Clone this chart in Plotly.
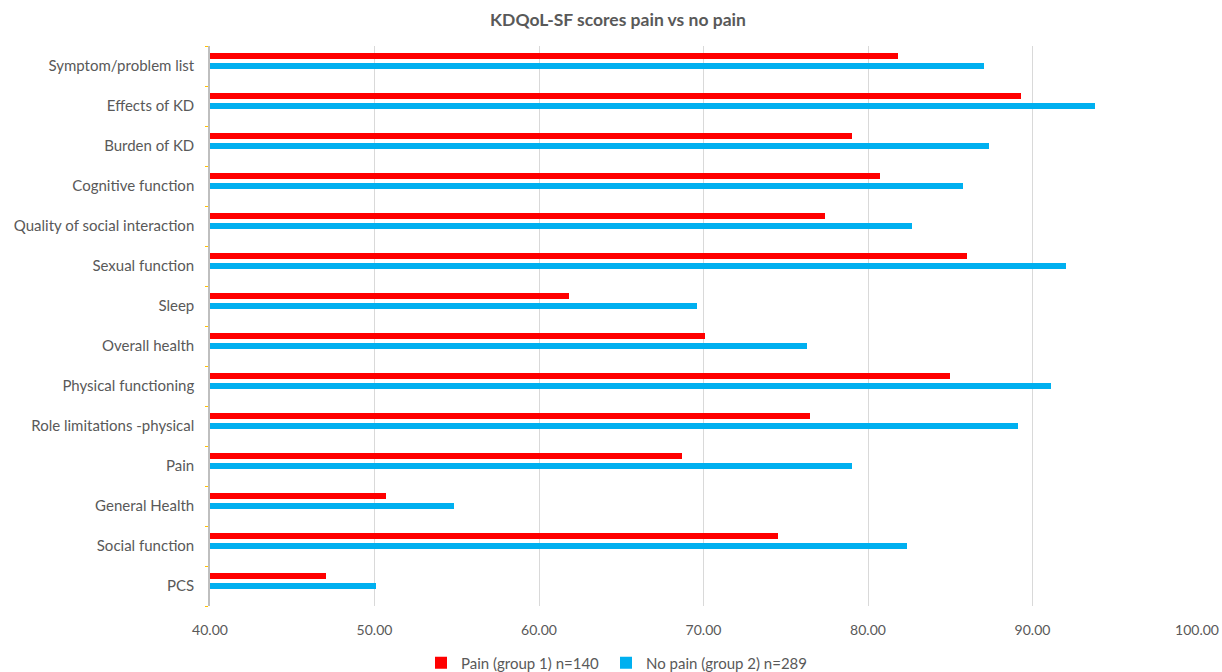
import plotly.graph_objects as go

categories = ["PCS", "Social function", "General Health", "Pain",
              "Role limitations -physical", "Physical functioning", "Overall health",
              "Sleep", "Sexual function", "Quality of social interaction",
              "Cognitive function", "Burden of KD", "Effects of KD", "Symptom/problem list"]
pain_scores = [47.05, 74.5, 50.7, 68.7, 76.5, 85.0, 70.1, 61.8, 86.0, 77.4, 80.7, 79.0, 89.3, 81.8]
nopain_scores = [50.1, 82.4, 54.85, 79.0, 89.1, 91.1, 76.3, 69.6, 92.05, 82.7, 85.8, 87.35, 93.8, 87.05]
x_ticks = [40, 50, 60, 70, 80, 90, 100]

FONT = "Lato"
GREY = "#595959"

fig = go.Figure()
fig.add_trace(go.Bar(
    y=categories, x=pain_scores, orientation="h", name="Pain (group 1) n=140",
    marker=dict(color="#FF0000", line=dict(width=0)),
    width=0.15, offset=0.175, legend="legend",
))
fig.add_trace(go.Bar(
    y=categories, x=nopain_scores, orientation="h", name="No pain (group 2) n=289",
    marker=dict(color="#00B0F0", line=dict(width=0)),
    width=0.15, offset=-0.07, legend="legend2",
))

legend_common = dict(orientation="h", xref="container", xanchor="left",
                     yref="container", y=9 / 672, yanchor="middle",
                     font=dict(family=FONT, size=15, color=GREY),
                     itemwidth=30, bgcolor="rgba(0,0,0,0)")

fig.update_layout(
    width=1222, height=672,
    paper_bgcolor="white", plot_bgcolor="white",
    barmode="overlay",
    margin=dict(l=209.5, r=24.5, t=46, b=66, autoexpand=False),
    title=dict(text="<b>KDQoL-SF scores pain vs no pain</b>",
               xref="container", x=618 / 1222, xanchor="center",
               yref="container", y=1 - 20 / 672, yanchor="middle",
               font=dict(family=FONT, size=17.5, color=GREY)),
    font=dict(family=FONT, size=15, color=GREY),
    showlegend=True,
    legend=dict(legend_common, x=421 / 1222),
    legend2=dict(legend_common, x=606 / 1222),
    bargap=0,
)
fig.update_xaxes(
    range=[40, 100], tickvals=x_ticks, tickformat=".2f",
    showgrid=True, gridcolor="#D9D9D9", gridwidth=1,
    zeroline=False, showline=False, ticks="", automargin=False,
    tickfont=dict(family=FONT, size=14, color=GREY),
    ticklabelstandoff=14,
)
fig.update_yaxes(
    type="category", categoryorder="array", categoryarray=categories,
    showgrid=False, showline=True, linecolor="#BFBFBF", linewidth=1.5,
    ticks="outside", tickson="boundaries", ticklen=3, tickcolor="#FFC000", tickwidth=1,
    tickfont=dict(family=FONT, size=15, color=GREY), automargin=False,
    ticklabelstandoff=11,
)

fig.write_html("out.html",
               config={"displayModeBar": False},
               post_script="document.body.style.margin='0';document.body.style.overflow='hidden';")
